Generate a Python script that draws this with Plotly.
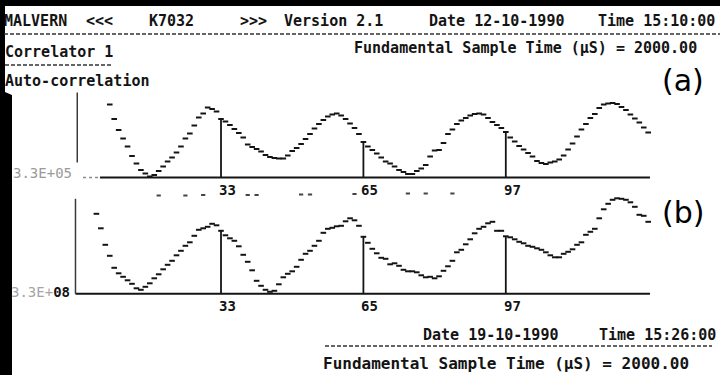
import plotly.graph_objects as go

# Lag channels and correlation heights above the baseline (arbitrary units)
top_channels = list(range(8, 130))
top_values = [
    73, 58.5, 47.5, 39, 31, 21.5, 14, 7.5, 4, 1,
    2.5, 6.5, 11, 16, 20, 25, 31, 39, 44, 52,
    60, 64, 70, 68.5, 66, 58.5, 56, 52.5, 48.5, 44.5,
    40, 33, 30.5, 28.5, 26, 22.5, 20.5, 19.5, 19, 19,
    22, 26.5, 29.5, 33.5, 38.5, 43.5, 49, 53.5, 57.5, 61,
    63, 64, 62, 58.5, 54, 49.5, 43.5, 35.5, 31, 27.5,
    24, 20, 16, 14, 11, 7.5, 5.5, 3.5, 3.5, 6.5,
    9, 12.5, 21, 27, 27.5, 34.5, 43.5, 48, 53.5, 57,
    59.5, 62, 63.5, 64, 63, 59.5, 55.5, 52.5, 49.5, 45.5,
    40, 36, 31.5, 28, 24.5, 21, 16.5, 14.5, 13.5, 15,
    16, 18, 22, 28, 34, 41, 48, 53.5, 59.5, 63.5,
    69.5, 73, 74, 74.5, 73.5, 70.5, 67.5, 63, 59, 55,
    50, 45,
]

bottom_channels = list(range(5, 130))
bottom_values = [
    80, 65.5, 49, 38, 26, 20.5, 17, 13.5, 10, 5.5,
    4, 7, 10.5, 15.5, 19.5, 24.5, 29, 33, 38.5, 43,
    48, 51.5, 58, 64, 65.5, 67, 70, 68.5, 63, 58.5,
    55.5, 53, 47.5, 39, 32, 23.5, 13, 8, 4, 2,
    3, 9.5, 16.5, 20, 22.5, 27, 34, 40, 43, 48,
    53, 61, 65, 66, 67.5, 68, 72.5, 75.5, 73.5, 68,
    57, 51, 45, 40.5, 36, 35, 29.5, 30.5, 28, 24,
    22.5, 22.5, 21.5, 18.5, 16.5, 17, 15.5, 17.5, 23, 27.5,
    33, 41.5, 44, 49.5, 54.5, 60.5, 65, 67, 70.5, 72,
    63, 63, 57.5, 56.5, 54.5, 52, 50.5, 48, 47, 45.5,
    44, 41.5, 38.5, 36.5, 36.5, 40, 42, 44.5, 49, 51.5,
    59, 62, 65, 75.5, 84.5, 90, 94, 95.5, 95, 94,
    91.5, 87, 79, 78, 72,
]

# Channels flagged with a vertical cursor line
marker_channels = [33, 65, 97]

# Stray printer dots just under the first baseline
stray_channels = [19, 25, 29, 39, 41, 51, 53, 63, 75, 79, 85]
stray_values = [-18, -18, -17.5, -17.5, -17.5, -17, -17, -16.5, -16, -16, -16]

baseline_labels = ["3.3E+05", "08"]

# ---------------------------------------------------------------- geometry
W, H = 720, 375
X0_PX, CH_PX = 78.6, 4.45          # pixel of channel 1, pixels per channel
TOP_BASE_PX, BOT_BASE_PX = 177.5, 293.8

def fx(px):
    return px / W

def fy(py):
    return 1 - py / H

x_range = [1 - X0_PX / CH_PX, 1 + (W - X0_PX) / CH_PX]
y_top_range = [TOP_BASE_PX - H, TOP_BASE_PX]
y_bot_range = [BOT_BASE_PX - H, BOT_BASE_PX]

INK = "#141414"
MONO = "DejaVu Sans Mono"

fig = go.Figure()

panels = [
    ("y", top_channels, top_values, 5.8, 0.7, (15, 85)),
    ("y2", bottom_channels, bottom_values, 0.3, 0.3, (0, 95)),
]

for yref, chans, vals, base_start, axis_x, axis_span in panels:
    lookup = dict(zip(chans, vals))
    end = max(chans) + 0.4
    # baseline
    fig.add_trace(go.Scatter(x=[base_start, end], y=[0, 0], mode="lines",
                             line=dict(color=INK, width=2), yaxis=yref,
                             hoverinfo="skip"))
    # vertical axis stub
    fig.add_trace(go.Scatter(x=[axis_x, axis_x], y=list(axis_span), mode="lines",
                             line=dict(color="#3a3a3a", width=1.5), yaxis=yref,
                             hoverinfo="skip"))
    # cursor lines at the flagged channels
    for c in marker_channels:
        fig.add_trace(go.Scatter(x=[c, c], y=[0, lookup[c]], mode="lines",
                                 line=dict(color=INK, width=1.8), yaxis=yref,
                                 hoverinfo="skip"))
        fig.add_annotation(x=c, y=0, xref="x", yref=yref, text=f"<b>{c}</b>",
                           showarrow=False, xanchor="left", yanchor="top",
                           xshift=-4, yshift=-2,
                           font=dict(family=MONO, size=14, color=INK))
    # correlation points
    fig.add_trace(go.Scatter(x=chans, y=vals, mode="markers", yaxis=yref,
                             marker=dict(symbol="line-ew-open", size=4,
                                         color=INK,
                                         line=dict(width=2, color=INK)),
                             hoverinfo="skip"))

# dotted leader in front of the first baseline
fig.add_trace(go.Scatter(x=[2.0, 5.8], y=[0, 0], mode="lines",
                         line=dict(color="#8a8a8a", width=1.5, dash="dot"),
                         yaxis="y", hoverinfo="skip"))
fig.add_trace(go.Scatter(x=stray_channels, y=stray_values, mode="markers",
                         yaxis="y",
                         marker=dict(symbol="line-ew-open", size=3,
                                     color="#444444",
                                     line=dict(width=2, color="#444444")),
                         hoverinfo="skip"))

# ------------------------------------------------------------------ text
def label(text, x, y, size=15, anchor="left", color=INK, bold=True,
          family=MONO):
    fig.add_annotation(x=fx(x), y=fy(y), xref="paper", yref="paper",
                       text=f"<b>{text}</b>" if bold else text,
                       showarrow=False, xanchor=anchor, yanchor="middle",
                       font=dict(family=family, size=size, color=color))

label("MALVERN", 69, 21, anchor="right")
label("&lt;&lt;&lt;", 84, 21)
label("K7032", 147, 21)
label("&gt;&gt;&gt;", 238, 21)
label("Version 2.1", 282, 21)
label("Date 12-10-1990", 427, 21)
label("Time 15:10:00", 596, 21)

label("Correlator 1", 3, 52)
label("Fundamental Sample Time (µS) = 2000.00", 352, 48)
label("Auto-correlation", 3, 81)

label(baseline_labels[0], 11, 173, size=14, color="#9a9a9a", bold=False)
fig.add_annotation(x=fx(9), y=fy(292), xref="paper", yref="paper",
                   text=f'<span style="color:#a5a5a5">3.3E+</span><b>{baseline_labels[1]}</b>',
                   showarrow=False, xanchor="left", yanchor="middle",
                   font=dict(family=MONO, size=14, color=INK))

label("Date 19-10-1990", 421, 335)
label("Time 15:26:00", 597, 335)
label("Fundamental Sample Time (µS) = 2000.00", 321, 363, size=16)

label("(a)", 660, 80, size=30, bold=False, family="DejaVu Sans", color="#000")
label("(b)", 660, 213, size=30, bold=False, family="DejaVu Sans", color="#000")

# ------------------------------------------------------------ rules / frame
shapes = [
    dict(type="line", xref="paper", yref="paper", x0=fx(4), x1=fx(720),
         y0=fy(34), y1=fy(34), line=dict(color="#333", width=1.5, dash="4px,2px")),
    dict(type="line", xref="paper", yref="paper", x0=fx(5), x1=fx(112),
         y0=fy(65), y1=fy(65), line=dict(color="#333", width=1.5, dash="4px,2px")),
    dict(type="line", xref="paper", yref="paper", x0=fx(325), x1=fx(712),
         y0=fy(346), y1=fy(346), line=dict(color="#333", width=1.5, dash="4px,2px")),
    dict(type="path", xref="paper", yref="paper", fillcolor="#000",
         line=dict(width=0), layer="below",
         path=(f"M 0 1 L 1 1 L 1 {fy(6)} L {fx(5)} {fy(6)} L {fx(5)} {fy(92)} "
               f"L {fx(12)} {fy(95)} L {fx(12)} 0 L 0 0 Z")),
]

fig.update_layout(
    width=W, height=H, margin=dict(l=0, r=0, t=0, b=0),
    paper_bgcolor="white", plot_bgcolor="white", showlegend=False,
    xaxis=dict(range=x_range, visible=False, fixedrange=True),
    yaxis=dict(range=y_top_range, visible=False, fixedrange=True),
    yaxis2=dict(range=y_bot_range, visible=False, overlaying="y",
                fixedrange=True),
    shapes=shapes,
)

fig.write_html("out.html", config={"displayModeBar": False})
